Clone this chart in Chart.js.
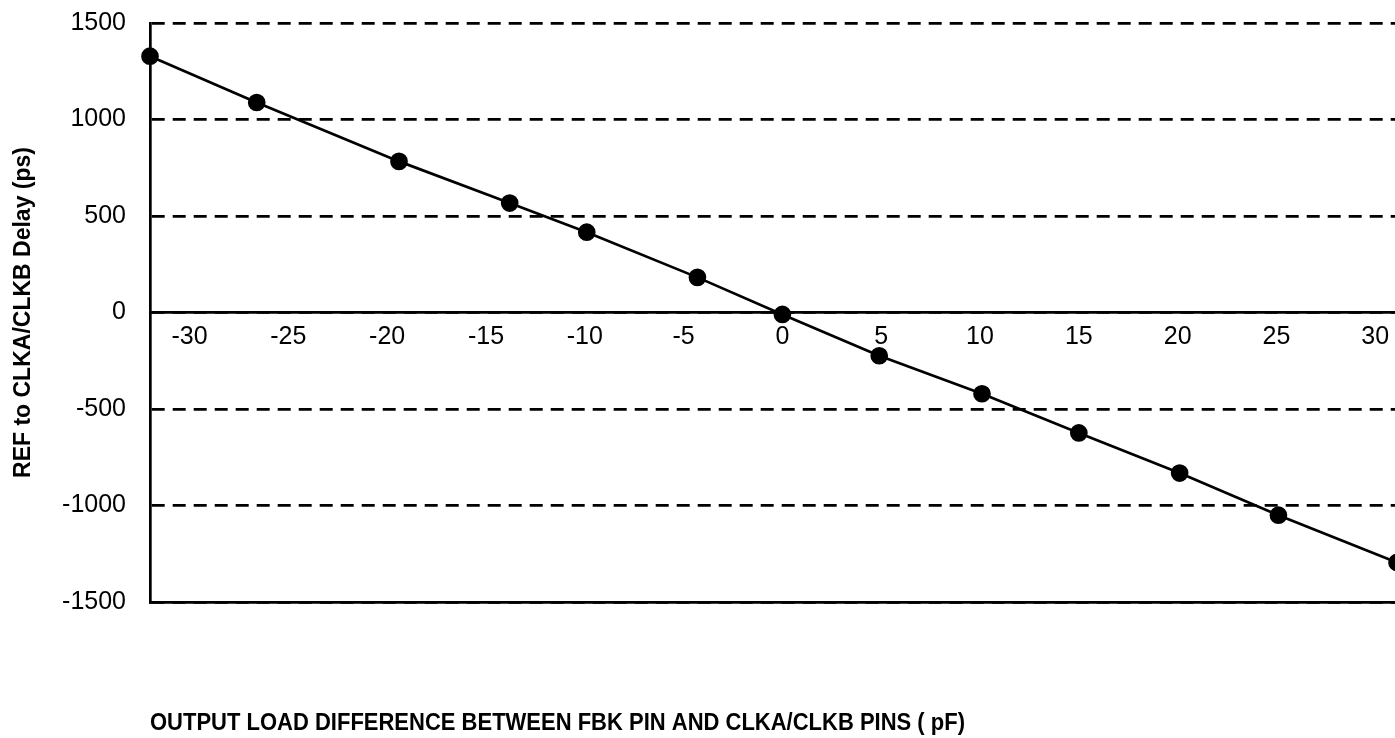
<!DOCTYPE html>
<html>
<head>
<meta charset="utf-8">
<script src="https://cdn.jsdelivr.net/npm/chart.js@4/dist/chart.umd.min.js"></script>
<style>
  html, body { margin: 0; padding: 0; background: #fff; overflow: hidden; }
  #wrap { width: 1425px; height: 738px; }
</style>
</head>
<body>
<div id="wrap"><canvas id="chart" width="1425" height="738"></canvas></div>
<script>
// load difference (pF) vs REF -> CLKA/CLKB delay (ps)
const loadDiff = [-32, -26.6, -19.4, -13.8, -9.9, -4.3, 0, 4.9, 10.1, 15, 20.1, 25.1, 31.1];
const delayPs  = [1328, 1088, 783, 567, 416, 182, -10, -224, -421, -624, -832, -1050, -1295];

const xTicks = [-30, -25, -20, -15, -10, -5, 0, 5, 10, 15, 20, 25, 30];
const yTicks = [-1500, -1000, -500, 0, 500, 1000, 1500];

const xTitle = "OUTPUT LOAD DIFFERENCE BETWEEN FBK PIN AND CLKA/CLKB PINS ( pF)";
const yTitle = "REF to CLKA/CLKB Delay (ps)";

const FONT = '"Liberation Sans", Arial, sans-serif';

// x title sits well below the plot in a narrow bold face; squeeze Liberation Sans to fake it
const bottomTitle = {
  id: "bottomTitle",
  afterDraw(chart) {
    const ctx = chart.ctx;
    ctx.save();
    ctx.fillStyle = "#000";
    ctx.font = 'bold 23px "Liberation Sans", Arial, sans-serif';
    ctx.textAlign = "left";
    ctx.textBaseline = "middle";
    const w = ctx.measureText(xTitle).width;
    const left = chart.chartArea.left;
    ctx.translate(left, 724);
    ctx.scale(815 / w, 1);
    ctx.fillText(xTitle, 0, 0);
    ctx.restore();
  }
};

new Chart(document.getElementById("chart"), {
  type: "line",
  data: {
    datasets: [{
      data: loadDiff.map((x, i) => ({ x, y: delayPs[i] })),
      borderColor: "#000",
      backgroundColor: "#000",
      borderWidth: 2.7,
      pointRadius: 7.5,
      pointHoverRadius: 7.5,
      tension: 0,
      clip: false
    }]
  },
  options: {
    responsive: false,
    animation: false,
    events: [],
    layout: { padding: { left: 0, right: 10, top: 23, bottom: 136 } },
    plugins: { legend: { display: false }, tooltip: { enabled: false } },
    scales: {
      x: {
        type: "linear",
        min: -32, max: 32,
        position: { y: 0 },
        grid: { display: false, drawTicks: false, tickLength: 0 },
        border: { display: true, color: "#000", width: 2.7 },
        afterBuildTicks: s => { s.ticks = xTicks.map(v => ({ value: v })); },
        afterFit: s => { s.height = 0; },
        ticks: {
          color: "#000", font: { family: FONT, size: 25 }, padding: 10,
          maxRotation: 0, autoSkip: false, callback: v => String(v)
        }
      },
      xb: {
        type: "linear",
        min: -32, max: 32,
        position: "bottom",
        grid: { display: false, drawTicks: false },
        ticks: { display: false },
        border: { display: true, color: "#000", width: 2.7 },
        afterFit: s => { s.height = 0; }
      },
      y: {
        min: -1500, max: 1500,
        position: "left",
        afterBuildTicks: s => { s.ticks = yTicks.map(v => ({ value: v })); },
        // fixed axis width; tick padding should not push the plot down
        afterFit: s => { s.width = 150; s.paddingTop = 0; s.paddingBottom = 0; },
        grid: { color: "#000", lineWidth: 2.7, drawTicks: false, tickLength: 0 },
        border: { display: true, color: "#000", width: 2.7, dash: [13, 8] },
        ticks: { color: "#000", font: { family: FONT, size: 25 }, padding: 24, callback: v => String(v) },
        title: {
          display: true, text: yTitle, color: "#000",
          font: { family: FONT, size: 23, weight: "bold" },
          padding: { top: 10, bottom: 0 }
        }
      }
    }
  },
  plugins: [bottomTitle]
});
</script>
</body>
</html>
